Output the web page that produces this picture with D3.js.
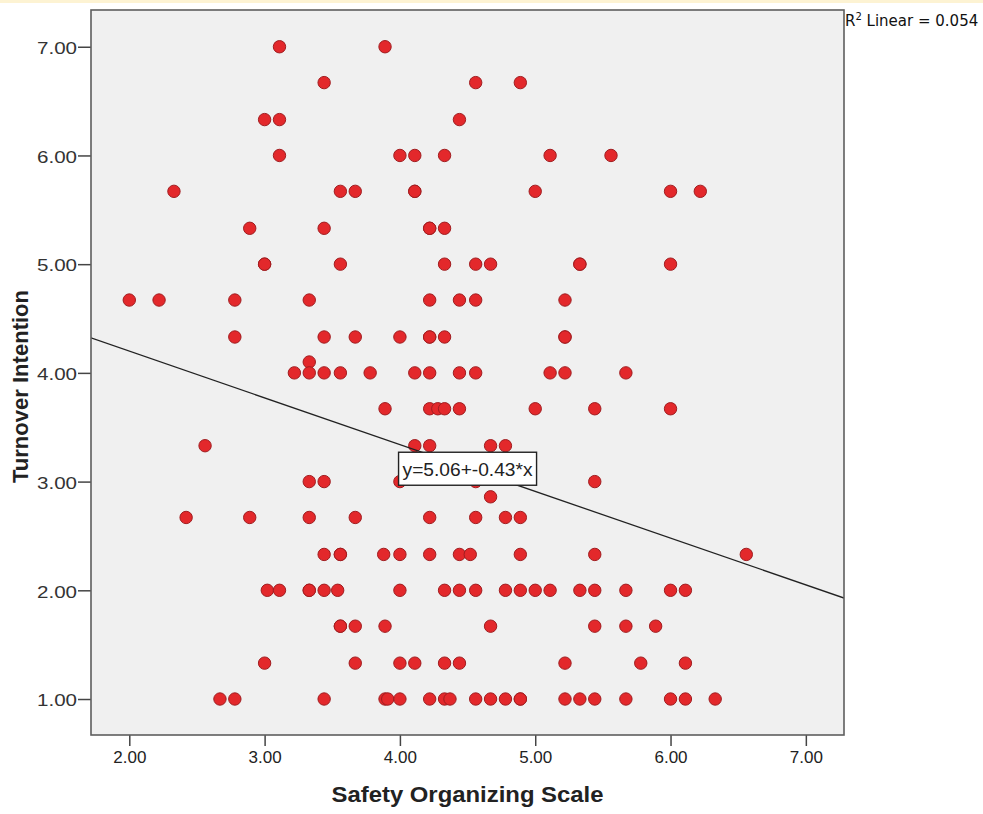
<!DOCTYPE html>
<html>
<head>
<meta charset="utf-8">
<script src="https://cdn.jsdelivr.net/npm/d3@7"></script>
<style>
  body { margin: 0; background: #fff; }
  svg { display: block; }
</style>
</head>
<body>
<script>
// one entry per respondent, written row by row (same turnover value per line)
const safety = [
  3.11, 3.89,
  3.44, 4.56, 4.89,
  3.00, 3.11, 4.44,
  3.11, 4.00, 4.11, 4.33, 5.11, 5.56,
  2.33, 3.56, 3.67, 4.11, 4.11, 5.00, 6.00, 6.22,
  2.89, 3.44, 4.22, 4.22, 4.33,
  3.00, 3.00, 3.56, 4.33, 4.56, 4.67, 5.33, 5.33, 6.00,
  2.00, 2.22, 2.78, 3.33, 4.22, 4.44, 4.56, 5.22,
  2.78, 3.44, 3.67, 4.00, 4.22, 4.22, 4.33, 5.22, 5.22,
  3.33,
  3.22, 3.33, 3.44, 3.56, 3.78, 4.11, 4.22, 4.44, 4.56, 5.11, 5.22, 5.67,
  3.89, 4.22, 4.28, 4.33, 4.44, 5.00, 5.44, 6.00,
  2.56, 4.11, 4.22, 4.67, 4.78,
  3.33, 3.44, 4.00, 4.56, 5.44,
  4.67,
  2.42, 2.89, 3.33, 3.67, 4.22, 4.56, 4.78, 4.89,
  3.44, 3.56, 3.56, 3.88, 4.00, 4.22, 4.44, 4.52, 4.89, 5.44, 6.56,
  3.02, 3.11, 3.33, 3.33, 3.44, 3.54, 4.00, 4.33, 4.44, 4.56, 4.78, 4.89, 5.00, 5.11, 5.33, 5.44, 5.67, 6.00, 6.11,
  3.56, 3.56, 3.67, 3.89, 4.67, 5.44, 5.67, 5.89,
  3.00, 3.67, 4.00, 4.11, 4.33, 4.44, 5.22, 5.78, 6.11,
  2.67, 2.78, 3.44, 3.89, 3.91, 4.00, 4.22, 4.33, 4.37, 4.56, 4.67, 4.78, 4.89, 4.89, 5.22, 5.33, 5.44, 5.67, 6.00, 6.11, 6.33
];
const turnover = [
  7.00, 7.00,
  6.67, 6.67, 6.67,
  6.33, 6.33, 6.33,
  6.00, 6.00, 6.00, 6.00, 6.00, 6.00,
  5.67, 5.67, 5.67, 5.67, 5.67, 5.67, 5.67, 5.67,
  5.33, 5.33, 5.33, 5.33, 5.33,
  5.00, 5.00, 5.00, 5.00, 5.00, 5.00, 5.00, 5.00, 5.00,
  4.67, 4.67, 4.67, 4.67, 4.67, 4.67, 4.67, 4.67,
  4.33, 4.33, 4.33, 4.33, 4.33, 4.33, 4.33, 4.33, 4.33,
  4.10,
  4.00, 4.00, 4.00, 4.00, 4.00, 4.00, 4.00, 4.00, 4.00, 4.00, 4.00, 4.00,
  3.67, 3.67, 3.67, 3.67, 3.67, 3.67, 3.67, 3.67,
  3.33, 3.33, 3.33, 3.33, 3.33,
  3.00, 3.00, 3.00, 3.00, 3.00,
  2.86,
  2.67, 2.67, 2.67, 2.67, 2.67, 2.67, 2.67, 2.67,
  2.33, 2.33, 2.33, 2.33, 2.33, 2.33, 2.33, 2.33, 2.33, 2.33, 2.33,
  2.00, 2.00, 2.00, 2.00, 2.00, 2.00, 2.00, 2.00, 2.00, 2.00, 2.00, 2.00, 2.00, 2.00, 2.00, 2.00, 2.00, 2.00, 2.00,
  1.67, 1.67, 1.67, 1.67, 1.67, 1.67, 1.67, 1.67,
  1.33, 1.33, 1.33, 1.33, 1.33, 1.33, 1.33, 1.33, 1.33,
  1.00, 1.00, 1.00, 1.00, 1.00, 1.00, 1.00, 1.00, 1.00, 1.00, 1.00, 1.00, 1.00, 1.00, 1.00, 1.00, 1.00, 1.00, 1.00, 1.00, 1.00
];
const xTicks = [2, 3, 4, 5, 6, 7];
const yTicks = [1, 2, 3, 4, 5, 6, 7];
const fitCoef = [5.06, -0.43];   // intercept, slope
const rSquared = 0.054;

const width = 983, height = 814;
const frame = { left: 91, right: 844, top: 10, bottom: 735 };

const x = d3.scaleLinear().domain([1.717, 7.282]).range([frame.left, frame.right]);
const y = d3.scaleLinear().domain([0.669, 7.338]).range([frame.bottom, frame.top]);
const fmt = d3.format('.2f');
// SPSS prints a plain hyphen, not d3's unicode minus
const fmtPlain = v => v.toFixed(2);

const svg = d3.select('body').append('svg')
  .attr('width', width)
  .attr('height', height);

// faint strip along the top edge of the screenshot
svg.append('rect')
  .attr('x', 0).attr('y', 0)
  .attr('width', width).attr('height', 3)
  .attr('fill', '#fdf3d3');

svg.append('clipPath').attr('id', 'plot-clip')
  .append('rect')
  .attr('x', frame.left).attr('y', frame.top)
  .attr('width', frame.right - frame.left)
  .attr('height', frame.bottom - frame.top);

svg.append('rect')
  .attr('x', frame.left).attr('y', frame.top)
  .attr('width', frame.right - frame.left)
  .attr('height', frame.bottom - frame.top)
  .attr('fill', '#f0f0f0');

// axes
const yAxis = svg.append('g')
  .attr('transform', `translate(${frame.left},0)`)
  .call(d3.axisLeft(y).tickValues(yTicks).tickFormat(fmt)
    .tickSize(13).tickSizeOuter(0).tickPadding(1));

const xAxis = svg.append('g')
  .attr('transform', `translate(0,${frame.bottom})`)
  .call(d3.axisBottom(x).tickValues(xTicks).tickFormat(fmt)
    .tickSize(11).tickSizeOuter(0).tickPadding(5));

[xAxis, yAxis].forEach(g => {
  g.select('.domain').remove();
  g.selectAll('.tick line').attr('stroke', '#444').attr('stroke-width', 1.5);
});

yAxis.selectAll('.tick text')
  .attr('dy', '0.42em')
  .attr('fill', '#333')
  .style('font-family', '"Liberation Sans", Arial, sans-serif')
  .style('font-size', '16px')
  .attr('textLength', 40)
  .attr('lengthAdjust', 'spacingAndGlyphs');

xAxis.selectAll('.tick text')
  .attr('fill', '#222')
  .style('font-family', '"Liberation Sans", Arial, sans-serif')
  .style('font-size', '17px');

// points
svg.append('g')
  .selectAll('circle')
  .data(d3.zip(safety, turnover))
  .enter().append('circle')
  .attr('cx', d => x(d[0]))
  .attr('cy', d => y(d[1]))
  .attr('r', 6.2)
  .attr('fill', '#e3282b')
  .attr('stroke', '#a01d20')
  .attr('stroke-width', 1);

// fit line
const [x0, x1] = x.domain();
svg.append('line')
  .attr('clip-path', 'url(#plot-clip)')
  .attr('x1', x(x0)).attr('y1', y(fitCoef[0] + fitCoef[1] * x0))
  .attr('x2', x(x1)).attr('y2', y(fitCoef[0] + fitCoef[1] * x1))
  .attr('stroke', '#222')
  .attr('stroke-width', 1.3);

// frame border
svg.append('rect')
  .attr('x', frame.left).attr('y', frame.top)
  .attr('width', frame.right - frame.left)
  .attr('height', frame.bottom - frame.top)
  .attr('fill', 'none')
  .attr('stroke', '#5e5e5e')
  .attr('stroke-width', 1.6);

// equation label
const eq = svg.append('g')
  .attr('transform', `translate(${x(3.99)},${y(3.27)})`);
eq.append('rect')
  .attr('width', 138).attr('height', 33)
  .attr('fill', '#fff')
  .attr('stroke', '#222')
  .attr('stroke-width', 1.4);
eq.append('text')
  .attr('x', 4).attr('y', 24)
  .attr('fill', '#222')
  .style('font-family', '"Liberation Sans", Arial, sans-serif')
  .style('font-size', '19px')
  .attr('textLength', 130)
  .attr('lengthAdjust', 'spacingAndGlyphs')
  .text(`y=${fmtPlain(fitCoef[0])}+${fmtPlain(fitCoef[1])}*x`);

// R squared note
const r2 = svg.append('text')
  .attr('x', 845).attr('y', 26)
  .attr('fill', '#111')
  .style('font-family', '"DejaVu Sans", sans-serif')
  .style('font-size', '15px');
r2.append('tspan').text('R');
r2.append('tspan').attr('dy', -6).style('font-size', '10px').text('2');
r2.append('tspan').attr('dy', 6).text(` Linear = ${d3.format('.3f')(rSquared)}`);

// axis titles
svg.append('text')
  .attr('x', (frame.left + frame.right) / 2)
  .attr('y', 802)
  .attr('text-anchor', 'middle')
  .attr('fill', '#222')
  .style('font-family', '"Liberation Sans", Arial, sans-serif')
  .style('font-size', '22px')
  .style('font-weight', 'bold')
  .attr('textLength', 272)
  .attr('lengthAdjust', 'spacingAndGlyphs')
  .text('Safety Organizing Scale');

svg.append('text')
  .attr('transform', `translate(28,${(frame.top + frame.bottom) / 2 + 14}) rotate(-90)`)
  .attr('text-anchor', 'middle')
  .attr('fill', '#222')
  .style('font-family', '"Liberation Sans", Arial, sans-serif')
  .style('font-size', '22px')
  .style('font-weight', 'bold')
  .attr('textLength', 193)
  .attr('lengthAdjust', 'spacingAndGlyphs')
  .text('Turnover Intention');
</script>
</body>
</html>
